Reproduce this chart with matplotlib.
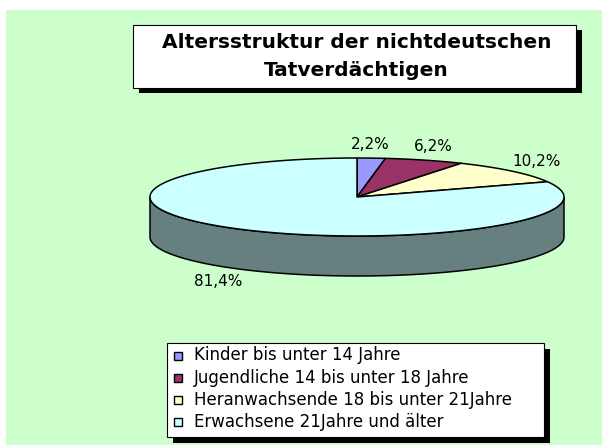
import numpy as np
import matplotlib
matplotlib.use("Agg")
import matplotlib.pyplot as plt
from matplotlib.patches import Rectangle, Polygon

# ---- data ----
title_lines = ["Altersstruktur der nichtdeutschen", "Tatverdächtigen"]
categories = ["Kinder bis unter 14 Jahre",
              "Jugendliche 14 bis unter 18 Jahre",
              "Heranwachsende 18 bis unter 21Jahre",
              "Erwachsene 21Jahre und älter"]
shares = [2.2, 6.2, 10.2, 81.4]
colors = ["#9999FF", "#993366", "#FFFFCC", "#CCFFFF"]

plt.rcParams['font.family'] = ['DejaVu Sans']

W, H = 602, 445
fig = plt.figure(figsize=(W / 100, H / 100), dpi=100)
fig.patch.set_facecolor("white")
ax = fig.add_axes([0, 0, 1, 1])
ax.set_xlim(0, W)
ax.set_ylim(H, 0)
ax.axis("off")

# chart area background
ax.add_patch(Rectangle((6, 10), W - 6, H - 10, facecolor="#CCFFCC", edgecolor="none", zorder=0))

# ---- title box ----
tb = (133, 25, 443, 63)
sh = 6
ax.add_patch(Rectangle((tb[0] + sh, tb[1] + 5), tb[2], tb[3], facecolor="black", edgecolor="none", zorder=1))
ax.add_patch(Rectangle((tb[0], tb[1]), tb[2], tb[3], facecolor="white", edgecolor="black", lw=0.8, zorder=2))
ax.text(tb[0] + tb[2] / 2 + 2, 43, title_lines[0], ha="center", va="center", fontsize=14.5,
        fontweight="bold", zorder=3)
ax.text(tb[0] + tb[2] / 2 + 2, 71, title_lines[1], ha="center", va="center", fontsize=14.5,
        fontweight="bold", zorder=3)

# ---- 3D pie ----
cx, cy, rx, ry, depth = 357, 197, 207, 39, 40


def darker(c, f=0.5):
    r, g, b = matplotlib.colors.to_rgb(c)
    return (r * f, g * f, b * f)


vals = np.array(shares, dtype=float)
cum = np.concatenate([[0], np.cumsum(vals)]) / vals.sum() * 360.0
starts = 90 - cum[:-1]
ends = 90 - cum[1:]

# sides (front part only)
for s, e, c in zip(starts, ends, colors):
    t = np.linspace(s, e, 400)
    rad = np.radians(t)
    front = np.sin(rad) <= 0
    idx = np.where(front)[0]
    if len(idx) == 0:
        continue
    runs = np.split(idx, np.where(np.diff(idx) != 1)[0] + 1)
    for run in runs:
        rr = rad[run]
        xs = cx + rx * np.cos(rr)
        ys = cy - ry * np.sin(rr)
        pts = np.column_stack([np.concatenate([xs, xs[::-1]]),
                               np.concatenate([ys, ys[::-1] + depth])])
        ax.add_patch(Polygon(pts, closed=True, facecolor=darker(c), edgecolor="black",
                             lw=1.1, zorder=4))

# top faces
for s, e, c in zip(starts, ends, colors):
    rad = np.radians(np.linspace(s, e, 300))
    xs = cx + rx * np.cos(rad)
    ys = cy - ry * np.sin(rad)
    pts = np.column_stack([np.concatenate([[cx], xs]), np.concatenate([[cy], ys])])
    ax.add_patch(Polygon(pts, closed=True, facecolor=c, edgecolor="black", lw=1.1,
                         joinstyle="round", zorder=5))

# data labels
for s, e, v in zip(starts, ends, vals):
    m = np.radians((s + e) / 2)
    lx = cx + rx * 1.18 * np.cos(m) - 4
    ly = cy - ry * 1.36 * np.sin(m)
    if np.sin(m) < 0:
        ly += depth
    ax.text(lx, ly, f"{v:.1f}%".replace(".", ","), ha="center", va="center",
            fontsize=11, zorder=6)

# ---- legend ----
lb = (167, 343, 377, 94)
ax.add_patch(Rectangle((lb[0] + sh, lb[1] + 6), lb[2], lb[3], facecolor="black", edgecolor="none", zorder=1))
ax.add_patch(Rectangle((lb[0], lb[1]), lb[2], lb[3], facecolor="white", edgecolor="black", lw=0.8, zorder=2))
row0, dy = 355.5, 22.3
for i, (cat, c) in enumerate(zip(categories, colors)):
    y = row0 + i * dy
    ax.add_patch(Rectangle((174, y - 4), 8, 8, facecolor=c, edgecolor="black", lw=1.0, zorder=3))
    ax.text(194, y, cat, ha="left", va="center", fontsize=12, zorder=3)

fig.savefig("out.png", dpi=100, facecolor=fig.get_facecolor())
